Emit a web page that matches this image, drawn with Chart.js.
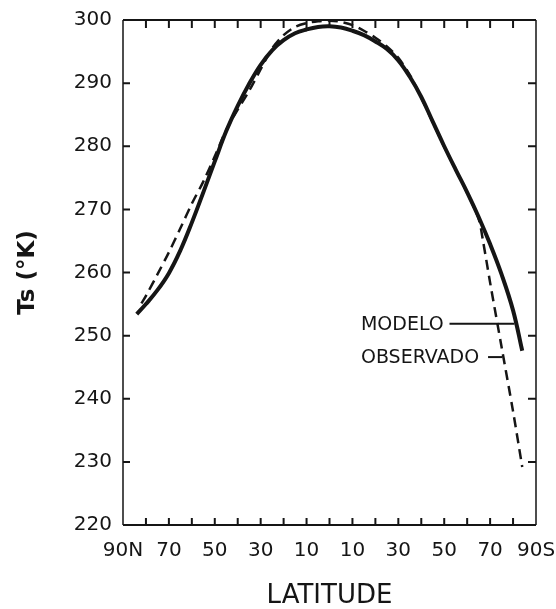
<!DOCTYPE html>
<html>
<head>
<meta charset="utf-8">
<script src="https://cdn.jsdelivr.net/npm/chart.js@4.4.1/dist/chart.umd.min.js"></script>
<style>
  html, body { margin: 0; padding: 0; background: #fff; }
  #c { display: block; }
</style>
</head>
<body>
<canvas id="c" width="556" height="609"></canvas>
<script>
/* latitude: north positive, south negative */
var modelLat   = [84, 80, 75, 70, 65, 60, 55, 50, 45, 40, 35, 30, 25, 20, 15, 10, 5, 0,
                  -5, -10, -15, -20, -25, -30, -35, -40, -45, -50, -55, -60, -65, -70, -75, -80, -84];
var modelTemp  = [253.4, 255.0, 257.2, 259.9, 263.5, 267.9, 272.7, 277.6, 282.4, 286.4, 289.9, 292.9, 295.2, 296.8, 297.9, 298.5, 298.9, 299.0,
                  298.8, 298.3, 297.6, 296.6, 295.4, 293.6, 291.0, 287.8, 283.9, 280.0, 276.3, 272.7, 268.8, 264.5, 259.7, 254.0, 247.6];

var obsLat     = [82, 80, 75, 70, 65, 60, 55, 50, 45, 40, 35, 30, 25, 20, 15, 10, 5, 0,
                  -5, -10, -15, -20, -25, -30, -35, -40, -45, -50, -55, -60, -65, -67, -70, -75, -80, -84];
var obsTemp    = [255.1, 256.3, 259.7, 263.2, 267.0, 270.9, 274.4, 278.4, 282.6, 285.8, 288.8, 292.2, 295.5, 297.6, 298.9, 299.5, 299.8, 299.9,
                  299.7, 299.2, 298.3, 297.2, 295.8, 294.0, 291.3, 287.7, 283.8, 279.9, 276.3, 272.6, 268.5, 264.8, 258.4, 248.2, 238.0, 229.2];

var xTickValues = [90, 70, 50, 30, 10, -10, -30, -50, -70, -90];
var yTickValues = [220, 230, 240, 250, 260, 270, 280, 290, 300];
var legendLabels = ['MODELO', 'OBSERVADO'];

function toPoints(xs, ys) {
    var pts = [];
    for (var i = 0; i < xs.length; i++) {
        pts.push({x: xs[i], y: ys[i]});
    }
    return pts;
}

function latLabel(v) {
    if (v === 90) return '90N';
    if (v === -90) return '90S';
    return String(Math.abs(v));
}

var ink = '#151515';

/* frame with inward ticks on all four sides */
var framePlugin = {
    id: 'frame',
    afterDatasetsDraw: function (chart) {
        var ctx = chart.ctx, a = chart.chartArea;
        var xs = chart.scales.x, ys = chart.scales.y;
        ctx.save();
        ctx.strokeStyle = ink;
        ctx.lineCap = 'butt';

        ctx.lineWidth = 2;
        ctx.beginPath();
        ctx.moveTo(a.left, a.bottom); ctx.lineTo(a.right, a.bottom);
        ctx.moveTo(a.left, a.top); ctx.lineTo(a.right, a.top);
        ctx.stroke();
        ctx.lineWidth = 1.5;
        ctx.beginPath();
        ctx.moveTo(a.left, a.top); ctx.lineTo(a.left, a.bottom);
        ctx.moveTo(a.right, a.top); ctx.lineTo(a.right, a.bottom);
        ctx.stroke();

        ctx.lineWidth = 2;
        ctx.beginPath();
        for (var v = -80; v <= 80; v += 10) {
            var px = xs.getPixelForValue(v);
            ctx.moveTo(px, a.bottom); ctx.lineTo(px, a.bottom - 7);
            ctx.moveTo(px, a.top); ctx.lineTo(px, a.top + 8);
        }
        yTickValues.forEach(function (t) {
            if (t <= ys.min || t >= ys.max) return;
            var py = ys.getPixelForValue(t);
            ctx.moveTo(a.left, py); ctx.lineTo(a.left + 7, py);
            ctx.moveTo(a.right, py); ctx.lineTo(a.right - 8, py);
        });
        ctx.stroke();
        ctx.restore();
    }
};

/* curve labels with leader lines, placed in data units */
var labelPlugin = {
    id: 'curveLabels',
    afterDatasetsDraw: function (chart) {
        var ctx = chart.ctx;
        var xs = chart.scales.x, ys = chart.scales.y;
        var items = [
            {text: legendLabels[0], t: 251.9, textLat: -13.7, from: -52.3, to: -80.6},
            {text: legendLabels[1], t: 246.6, textLat: -13.7, from: -69.1, to: -75.3}
        ];
        ctx.save();
        ctx.fillStyle = ink;
        ctx.strokeStyle = ink;
        ctx.lineWidth = 2;
        ctx.font = '19px "DejaVu Sans"';
        ctx.textAlign = 'left';
        ctx.textBaseline = 'middle';
        items.forEach(function (it) {
            var py = ys.getPixelForValue(it.t);
            ctx.fillText(it.text, xs.getPixelForValue(it.textLat), py + 1);
            ctx.beginPath();
            ctx.moveTo(xs.getPixelForValue(it.from), py);
            ctx.lineTo(xs.getPixelForValue(it.to), py);
            ctx.stroke();
        });
        ctx.restore();
    }
};

var chart = new Chart(document.getElementById('c'), {
    type: 'scatter',
    data: {
        datasets: [{
            label: legendLabels[0],
            data: toPoints(modelLat, modelTemp),
            showLine: true,
            borderColor: ink,
            borderWidth: 4,
            pointRadius: 0,
            tension: 0.4
        }, {
            label: legendLabels[1],
            data: toPoints(obsLat, obsTemp),
            showLine: true,
            borderColor: ink,
            borderWidth: 2.5,
            borderDash: [10, 6],
            pointRadius: 0,
            tension: 0.3
        }]
    },
    options: {
        responsive: false,
        animation: false,
        layout: { padding: {left: 0, right: 20, top: 20, bottom: 0} },
        plugins: {
            legend: { display: false },
            tooltip: { enabled: false }
        },
        scales: {
            x: {
                type: 'linear',
                min: -90,
                max: 90,
                reverse: true,
                grid: { display: false, drawTicks: false },
                border: { display: false },
                afterBuildTicks: function (scale) {
                    scale.ticks = xTickValues.map(function (v) { return {value: v}; });
                },
                afterFit: function (scale) {
                    scale.height = 84;
                    scale.paddingLeft = 0;
                    scale.paddingRight = 0;
                },
                ticks: {
                    autoSkip: false,
                    maxRotation: 0,
                    padding: 14,
                    color: ink,
                    font: { family: '"DejaVu Sans"', size: 20 },
                    callback: function (v) { return latLabel(v); }
                },
                title: {
                    display: true,
                    text: 'LATITUDE',
                    color: ink,
                    padding: {top: 0, bottom: 0},
                    font: { family: '"DejaVu Sans"', size: 26, lineHeight: 1 }
                }
            },
            y: {
                min: 220,
                max: 300,
                grid: { display: false, drawTicks: false },
                border: { display: false },
                afterBuildTicks: function (scale) {
                    scale.ticks = yTickValues.map(function (v) { return {value: v}; });
                },
                afterFit: function (scale) {
                    scale.width = 123;
                    scale.paddingTop = 0;
                    scale.paddingBottom = 0;
                },
                ticks: {
                    padding: 11,
                    color: ink,
                    font: { family: '"DejaVu Sans"', size: 20 }
                },
                title: {
                    display: true,
                    text: 'Ts (°K)',
                    color: ink,
                    padding: {top: 14, bottom: 0},
                    font: { family: '"DejaVu Sans"', size: 23, weight: 'bold' }
                }
            }
        }
    },
    plugins: [framePlugin, labelPlugin]
});
</script>
</body>
</html>
